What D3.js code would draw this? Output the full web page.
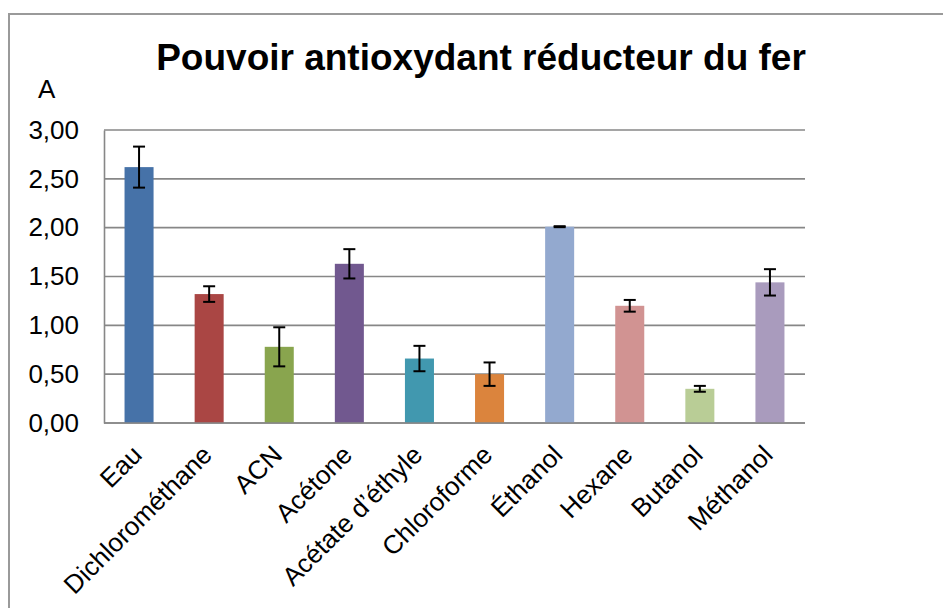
<!DOCTYPE html>
<html>
<head>
<meta charset="utf-8">
<script src="https://cdn.jsdelivr.net/npm/d3@7"></script>
<style>
  html, body { margin: 0; padding: 0; background: #fff; }
  svg { display: block; }
  text { font-family: "Liberation Sans", Arial, Helvetica, sans-serif; fill: #000; }
</style>
</head>
<body>
<svg id="chart" width="943" height="608"></svg>
<script>
const categories = ["Eau", "Dichlorométhane", "ACN", "Acétone", "Acétate d’éthyle", "Chloroforme", "Éthanol", "Hexane", "Butanol", "Méthanol"];
const values = [2.62, 1.32, 0.78, 1.63, 0.66, 0.50, 2.01, 1.20, 0.35, 1.44];
const errors = [0.21, 0.08, 0.20, 0.15, 0.13, 0.12, 0.005, 0.06, 0.03, 0.135];
const colors = ["#4672a8", "#aa4644", "#89a54e", "#71588f", "#4198af", "#db843d", "#93a9cf", "#d19392", "#b9cd96", "#a99bbd"];
const yTicks = [0, 0.5, 1, 1.5, 2, 2.5, 3];
const title = "Pouvoir antioxydant réducteur du fer";
const yLabel = "A";

const svg = d3.select("#chart");
const margin = { left: 104, right: 805, top: 130, bottom: 423 };

// outer chart border
svg.append("rect")
  .attr("x", 9).attr("y", 14).attr("width", 960).attr("height", 640)
  .attr("fill", "none").attr("stroke", "#9a9a9a").attr("stroke-width", 2);

const x = d3.scaleBand().domain(categories)
  .range([margin.left, margin.right]).paddingInner(0.586).paddingOuter(0.293);
const y = d3.scaleLinear().domain([0, 3]).range([margin.bottom, margin.top]);

// gridlines
svg.append("g").selectAll("line").data(yTicks).join("line")
  .attr("x1", margin.left).attr("x2", margin.right)
  .attr("y1", d => y(d)).attr("y2", d => y(d))
  .attr("stroke", "#878787").attr("stroke-width", 1.6);

// y axis
const yAxis = d3.axisLeft(y).tickValues(yTicks).tickSize(0).tickPadding(25)
  .tickFormat(d => d3.format(".2f")(d).replace(".", ","));
const gy = svg.append("g").attr("transform", `translate(${margin.left},0)`).call(yAxis);
gy.select(".domain").attr("stroke", "#878787").attr("stroke-width", 1.6);
gy.selectAll("text").attr("font-size", 26).attr("fill", "#000")
  .style("font-family", "'Liberation Sans', Arial, sans-serif");

// bars
svg.append("g").selectAll("rect").data(categories).join("rect")
  .attr("x", d => x(d)).attr("width", x.bandwidth())
  .attr("y", (d, i) => y(values[i]))
  .attr("height", (d, i) => y(0) - y(values[i]))
  .attr("fill", (d, i) => colors[i]);

// x axis line
svg.append("line").attr("x1", margin.left).attr("x2", margin.right)
  .attr("y1", y(0)).attr("y2", y(0)).attr("stroke", "#878787").attr("stroke-width", 1.6);

// error bars
const eg = svg.append("g").attr("stroke", "#000").attr("stroke-width", 2);
categories.forEach((c, i) => {
  const cx = x(c) + x.bandwidth() / 2;
  const hi = y(values[i] + errors[i]);
  const lo = y(values[i] - errors[i]);
  eg.append("line").attr("x1", cx).attr("x2", cx).attr("y1", hi).attr("y2", lo);
  eg.append("line").attr("x1", cx - 6).attr("x2", cx + 6).attr("y1", hi).attr("y2", hi);
  eg.append("line").attr("x1", cx - 6).attr("x2", cx + 6).attr("y1", lo).attr("y2", lo);
});

// x labels
svg.append("g").selectAll("text").data(categories).join("text")
  .attr("transform", d => `translate(${x(d) + x.bandwidth() / 2 - 2},${y(0) + 27}) rotate(-45)`)
  .attr("text-anchor", "end")
  .attr("dy", "0.35em")
  .attr("font-size", 26)
  .text(d => d);

// title
svg.append("text").attr("x", 481).attr("y", 70).attr("text-anchor", "middle")
  .attr("font-size", 37).attr("font-weight", "bold").text(title);

// y label
svg.append("text").attr("x", 38).attr("y", 98).attr("font-size", 26).text(yLabel);
</script>
</body>
</html>
